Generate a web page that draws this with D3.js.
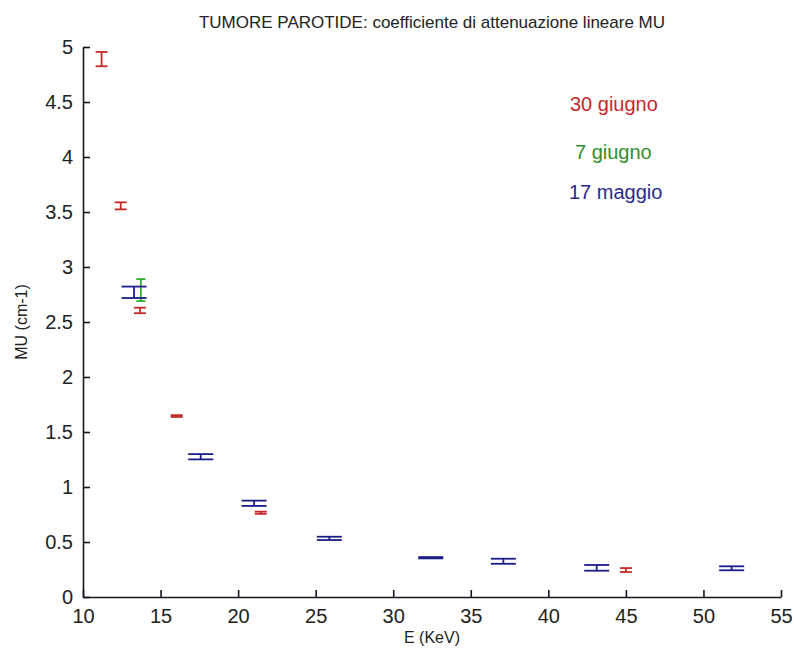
<!DOCTYPE html>
<html>
<head>
<meta charset="utf-8">
<script src="https://cdn.jsdelivr.net/npm/d3@7"></script>
<style>
  body { margin: 0; background: #fff; }
  text { font-family: "Liberation Sans", Arial, sans-serif; }
</style>
</head>
<body>
<script>
// energy (KeV), MU (cm-1) and error for each acquisition
var redE = [11.2, 12.43, 13.67, 16.04, 21.46, 45.0],
    redMU = [4.89, 3.556, 2.605, 1.645, 0.766, 0.245],
    redErr = [0.065, 0.032, 0.025, 0.008, 0.01, 0.018];

var greenE = [13.73],
    greenMU = [2.79],
    greenErr = [0.1];

var blueE = [13.29, 17.59, 21.03, 25.88, 32.42, 37.1, 43.12, 51.82],
    blueMU = [2.77, 1.275, 0.852, 0.533, 0.357, 0.325, 0.265, 0.261],
    blueErr = [0.052, 0.024, 0.024, 0.015, 0.006, 0.023, 0.026, 0.018];

var xTicks = [10, 15, 20, 25, 30, 35, 40, 45, 50, 55],
    yTicks = [0, 0.5, 1, 1.5, 2, 2.5, 3, 3.5, 4, 4.5, 5];

var legendLabels = ["30 giugno", "7 giugno", "17 maggio"];

var W = 794, H = 654;
var margin = { top: 47, right: 13, bottom: 57, left: 83 },
    width = W - margin.left - margin.right,
    height = H - margin.top - margin.bottom;

var svg = d3.select("body").append("svg")
    .attr("width", W)
    .attr("height", H);

var g = svg.append("g")
    .attr("transform", "translate(" + margin.left + "," + margin.top + ")");

var x = d3.scaleLinear().domain([10, 55]).range([0, width]);
var y = d3.scaleLinear().domain([0, 5]).range([height, 0]);

var axisColor = "#16161f";

// axes with inward ticks, matlab style
var xAxis = g.append("g")
    .attr("transform", "translate(0," + height + ")")
    .call(d3.axisBottom(x).tickValues(xTicks).tickSize(-7).tickSizeOuter(0).tickPadding(12));
var yAxis = g.append("g")
    .call(d3.axisLeft(y).tickValues(yTicks).tickSize(-7).tickSizeOuter(0).tickPadding(10)
        .tickFormat(d3.format("")));

[xAxis, yAxis].forEach(function (a) {
    a.select(".domain").attr("stroke", axisColor).attr("stroke-width", 1.6);
    a.selectAll(".tick line").attr("stroke", axisColor).attr("stroke-width", 1.6);
    a.selectAll(".tick text")
        .attr("fill", "#222")
        .style("font-size", "20px")
        .style("font-family", "'Liberation Sans', Arial, sans-serif");
});

function errorBars(xs, ys, es, color, cap) {
    var data = xs.map(function (d, i) { return { e: d, mu: ys[i], err: es[i] }; });
    var bars = g.append("g").selectAll("g").data(data).enter().append("g")
        .attr("stroke", color)
        .attr("stroke-width", 1.8)
        .attr("fill", "none");
    bars.append("line")
        .attr("x1", function (d) { return x(d.e); })
        .attr("x2", function (d) { return x(d.e); })
        .attr("y1", function (d) { return y(d.mu - d.err); })
        .attr("y2", function (d) { return y(d.mu + d.err); });
    [-1, 1].forEach(function (s) {
        bars.append("line")
            .attr("x1", function (d) { return x(d.e) - cap / 2; })
            .attr("x2", function (d) { return x(d.e) + cap / 2; })
            .attr("y1", function (d) { return y(d.mu + s * d.err); })
            .attr("y2", function (d) { return y(d.mu + s * d.err); });
    });
}

errorBars(greenE, greenMU, greenErr, "#2fae2f", 9);
errorBars(blueE, blueMU, blueErr, "#1c1c8a", 25);
errorBars(redE, redMU, redErr, "#c42a2a", 12);

// text labels for the dates
var legendColors = ["#c42a2a", "#2f8f2f", "#2a2a8c"];
var legendX = [570, 575, 569],
    legendY = [111, 159, 199];
svg.append("g").selectAll("text").data(legendLabels).enter().append("text")
    .attr("x", function (d, i) { return legendX[i]; })
    .attr("y", function (d, i) { return legendY[i]; })
    .attr("fill", function (d, i) { return legendColors[i]; })
    .style("font-size", "20px")
    .text(function (d) { return d; });

svg.append("text")
    .attr("x", margin.left + width / 2)
    .attr("y", 28)
    .attr("text-anchor", "middle")
    .attr("fill", "#222")
    .style("font-size", "17px")
    .text("TUMORE PAROTIDE: coefficiente di attenuazione lineare MU");

svg.append("text")
    .attr("x", margin.left + width / 2)
    .attr("y", 643)
    .attr("text-anchor", "middle")
    .attr("fill", "#222")
    .style("font-size", "16px")
    .text("E (KeV)");

svg.append("text")
    .attr("transform", "translate(27," + (margin.top + height / 2) + ") rotate(-90)")
    .attr("text-anchor", "middle")
    .attr("fill", "#222")
    .style("font-size", "16px")
    .text("MU (cm-1)");
</script>
</body>
</html>
